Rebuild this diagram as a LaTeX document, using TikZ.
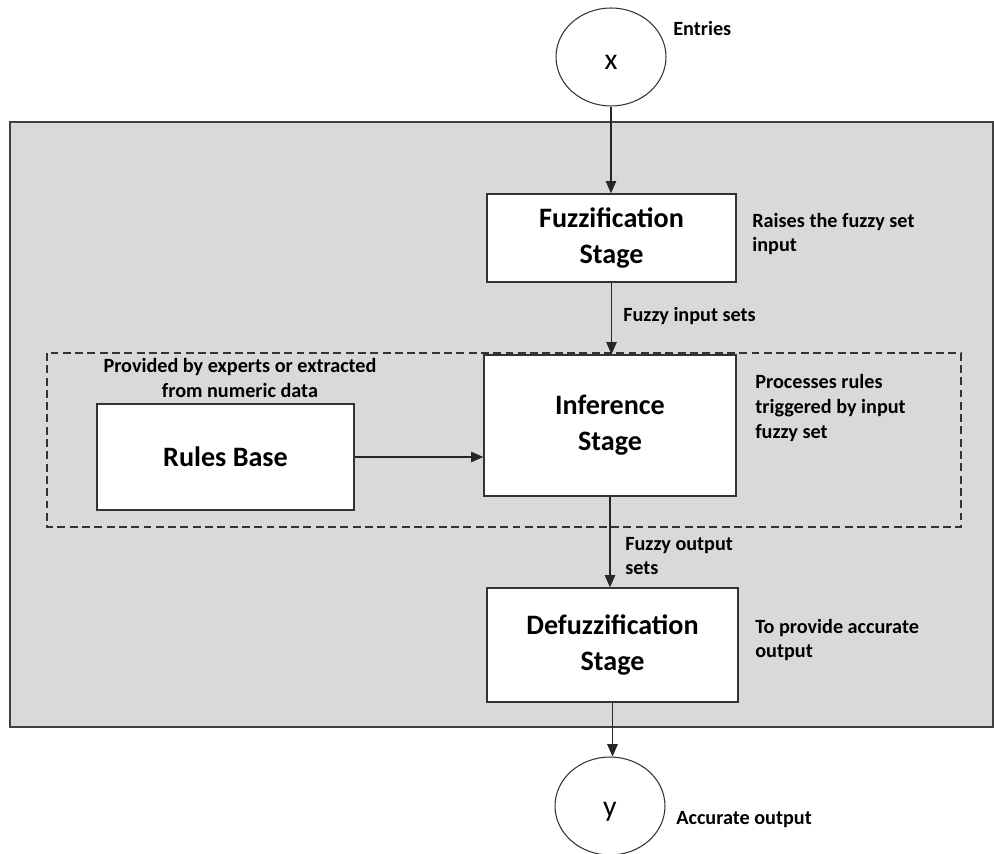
\documentclass[tikz,border=0pt]{standalone}
\usepackage{fontspec}
\setmainfont{Carlito}
\usetikzlibrary{arrows.meta,shapes.geometric}

\begin{document}
\begin{tikzpicture}[x=0.02cm, y=-0.02cm,
    stage/.style={shape=rectangle, draw=black!80, fill=white, line width=0.8pt, align=center, font=\fontsize{16}{20.5}\selectfont\bfseries},
    io/.style={shape=ellipse, draw=black!80, fill=white, line width=0.6pt, minimum width=2.2cm, minimum height=1.96cm, font=\fontsize{17}{20}\selectfont},
    note/.style={align=left, inner sep=0pt, font=\fontsize{11.5}{14.2}\selectfont\bfseries},
    flow/.style={-{Triangle[length=7pt,width=6pt]}, black!85, line width=0.6pt}]
        \useasboundingbox (0,0) rectangle (994,854);
        % grey panel and dashed rule area
        \draw[draw=black!75, fill=gray!30, line width=0.8pt] (10,122) rectangle (993,727);
        \draw[black!80, line width=0.6pt, dash pattern=on 4.5pt off 2.5pt] (47,353) rectangle (961,527);
        % blocks
        \node[name=x, io, text height=3ex] at (611,57) {x};
        \node[name=fuzz, stage, minimum width=4.98cm, minimum height=1.76cm] at (611.5,238) {Fuzzification\\Stage};
        \node[name=infer, stage, minimum width=5.04cm, minimum height=2.82cm] at (610,425.5) {Inference\\Stage};
        \node[name=rules, stage, minimum width=5.14cm, minimum height=2.12cm] at (225.5,457) {Rules Base};
        \node[name=defuzz, stage, minimum width=5.02cm, minimum height=2.28cm] at (612.5,645) {Defuzzification\\Stage};
        \node[name=y, io, text height=3ex] at (610,806) {y};
        % notes
        \node[name=entries, note, anchor=west] at (673,28) {Entries};
        \node[name=raises, note, anchor=west] at (752,234) {Raises the fuzzy set\\input};
        \node[name=fin, note, anchor=west] at (623,316) {Fuzzy input sets};
        \node[name=provided, note, align=center] at (240,378) {Provided by experts or extracted\\from numeric data};
        \node[name=processes, note, anchor=west] at (755,408) {Processes rules\\triggered by input\\fuzzy set};
        \node[name=fout, note, anchor=west] at (625,556) {Fuzzy output\\sets};
        \node[name=provide, note, anchor=west] at (755,640) {To provide accurate\\output};
        \node[name=accurate, note, anchor=west] at (676,820) {Accurate output};
        % connectors
        \draw[flow] (x.south) -- (x.south |- fuzz.north);
        \draw[flow] (fuzz.south) -- (fuzz.south |- infer.north);
        \draw[flow] (rules.east) -- (rules.east -| infer.west);
        \draw[flow] (infer.south) -- (infer.south |- defuzz.north);
        \draw[flow] (defuzz.south) -- (defuzz.south |- y.north);
    \end{tikzpicture}
\end{document}
